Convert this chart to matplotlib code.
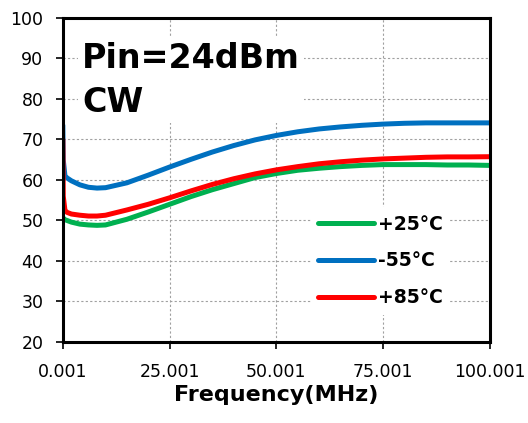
import numpy as np
import matplotlib.pyplot as plt

# frequency points (MHz)
freq = [0.001, 0.1, 0.5, 1, 2, 4, 6, 8, 10, 15, 20, 25, 30, 35, 40, 45,
        50, 55, 60, 65, 70, 75, 80, 85, 90, 95, 100.001]
# +25 C
t25 = [50.8, 50.5, 50.2, 50.0, 49.6, 49.1, 48.9, 48.8, 48.9, 50.3, 52.1,
       54.0, 55.9, 57.6, 59.1, 60.6, 61.6, 62.4, 62.9, 63.3, 63.6, 63.8,
       63.8, 63.8, 63.7, 63.7, 63.6]
# -55 C
tm55 = [73.5, 65.0, 61.0, 60.5, 59.8, 58.8, 58.2, 58.0, 58.1, 59.3, 61.2,
        63.2, 65.1, 66.9, 68.5, 69.9, 71.0, 71.9, 72.6, 73.1, 73.5, 73.8,
        74.0, 74.1, 74.1, 74.1, 74.1]
# +85 C
t85 = [70.0, 56.0, 52.5, 52.0, 51.6, 51.3, 51.1, 51.1, 51.3, 52.6, 54.0,
       55.6, 57.3, 58.9, 60.3, 61.5, 62.5, 63.3, 64.0, 64.5, 64.9, 65.2,
       65.4, 65.6, 65.7, 65.7, 65.75]

xticks = [0.001, 25.001, 50.001, 75.001, 100.001]
yticks = [20, 30, 40, 50, 60, 70, 80, 90, 100]

fig = plt.figure(figsize=(5.28, 4.23), dpi=100)
ax = fig.add_axes([0.119, 0.1915, 0.809, 0.766])

ax.plot(freq, t25, color='#00B050', lw=3.6, label='+25\u00b0C', solid_capstyle='round')
ax.plot(freq, tm55, color='#0070C0', lw=3.6, label='-55\u00b0C', solid_capstyle='round')
ax.plot(freq, t85, color='#FF0000', lw=3.6, label='+85\u00b0C', solid_capstyle='round')

ax.set_xlim(0.001, 100.001)
ax.set_ylim(20, 100)
ax.set_xticks(xticks)
ax.set_xticklabels(['%.3f' % v for v in xticks])
ax.set_yticks(yticks)
ax.tick_params(labelsize=12.5, width=1.2, length=5, direction='out')
ax.tick_params(axis='y', pad=9)
ax.tick_params(axis='x', pad=10)
ax.grid(True, color='#a0a0a0', ls=(0, (2, 2)), lw=0.8)
ax.set_axisbelow(True)
for s in ax.spines.values():
    s.set_linewidth(2.2)

ax.set_xlabel('Frequency(MHz)', fontsize=16, fontweight='bold', labelpad=3)

ax.text(0.045, 0.925, 'Pin=24dBm\nCW', transform=ax.transAxes, fontsize=24,
        fontweight='bold', va='top', ha='left', linespacing=1.4,
        bbox=dict(facecolor='white', edgecolor='none', pad=3))

leg = ax.legend(loc=(0.58, 0.084), fontsize=13.5, frameon=True,
                handlelength=3.0, handletextpad=0.2, labelspacing=0.95)
leg.get_frame().set_edgecolor('none')
leg.get_frame().set_alpha(1)
for t in leg.get_texts():
    t.set_fontweight('bold')

fig.savefig('out.png', dpi=100)
